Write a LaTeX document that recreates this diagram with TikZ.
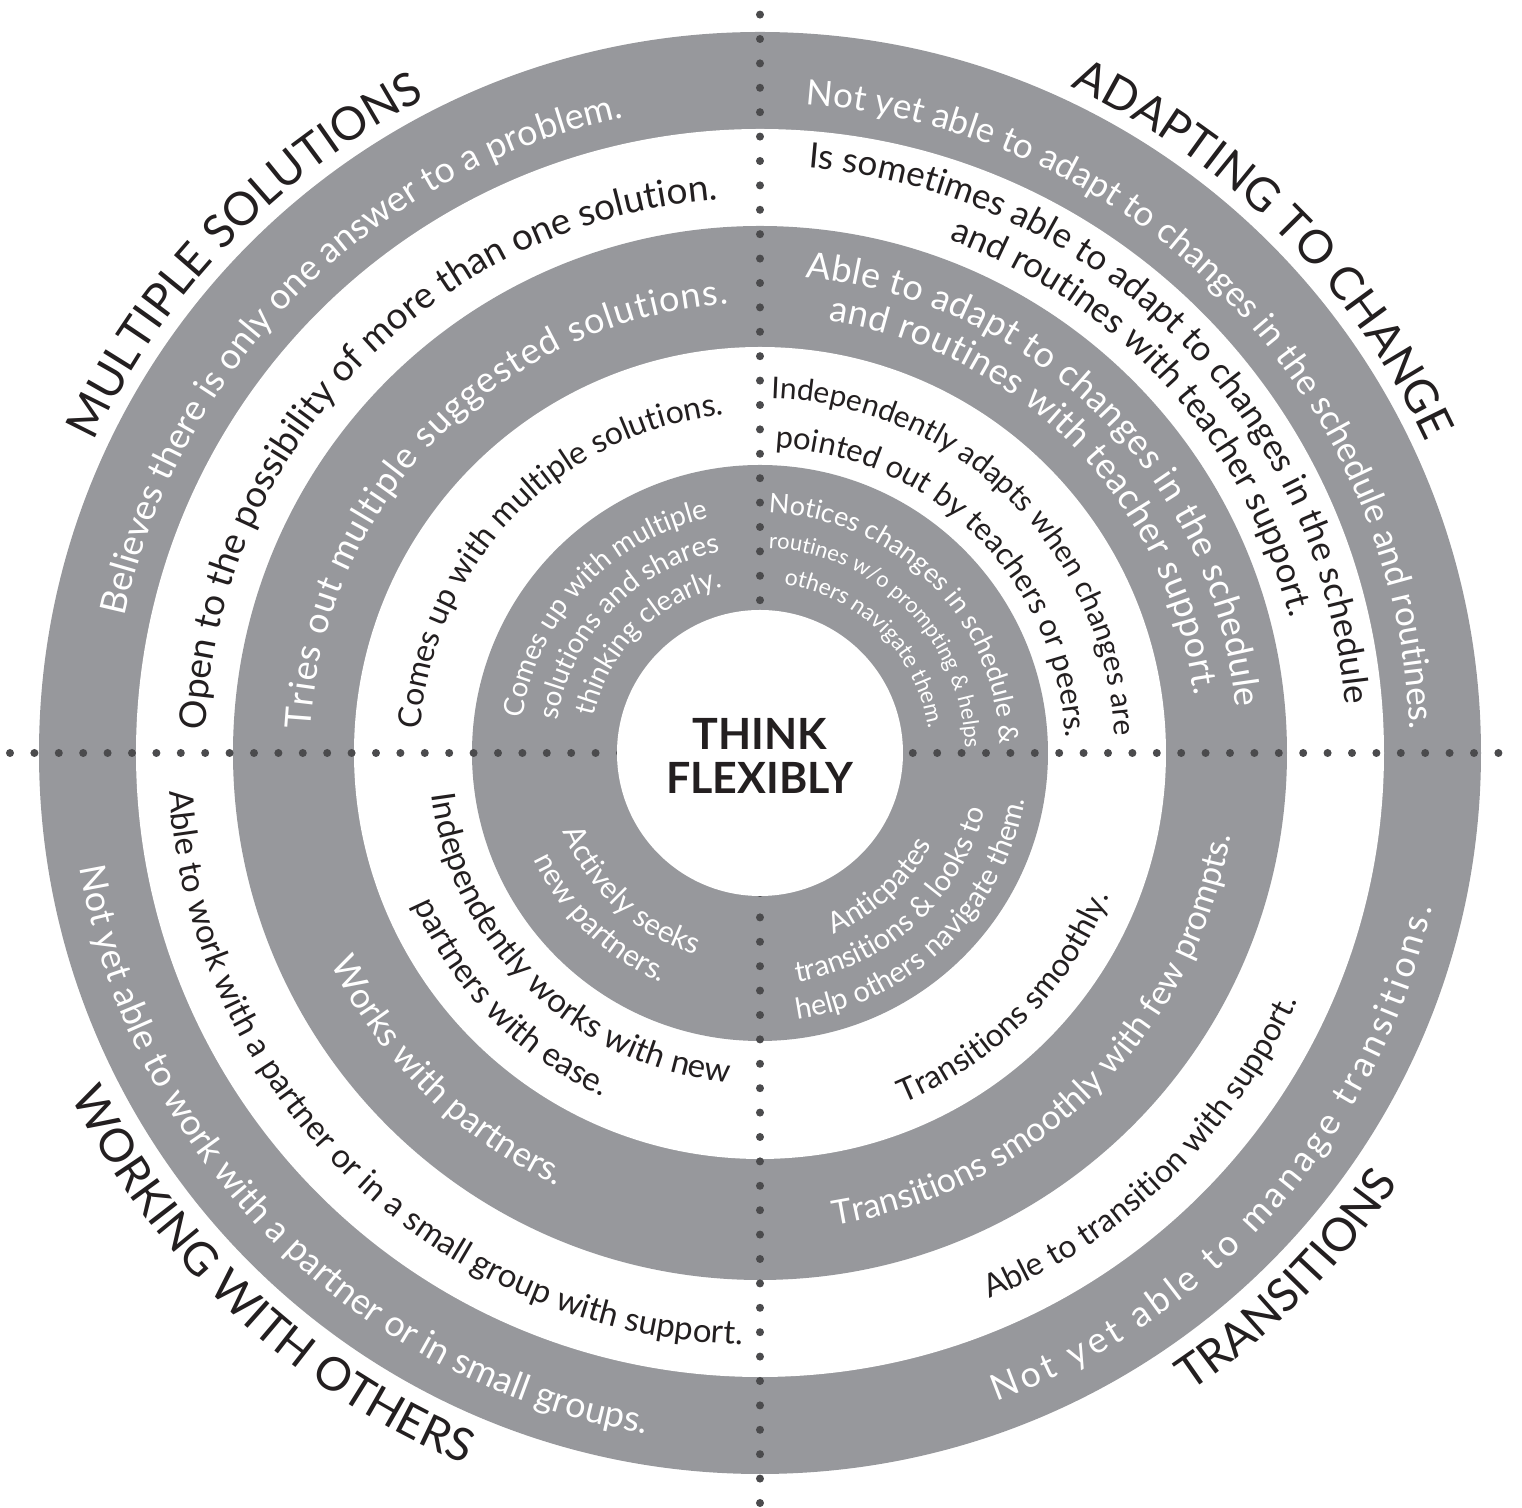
\documentclass[tikz,border=0pt]{standalone}
\usepackage{fontspec}
\setmainfont{Lato}
\usetikzlibrary{decorations.text}
\definecolor{ringgray}{HTML}{97989C}
\definecolor{dotgray}{HTML}{4B4B4D}
\definecolor{inkblack}{HTML}{231F20}
\tikzset{
    ring/.style={fill=ringgray, draw=none},
    hole/.style={fill=white, draw=none},
    dotline/.style={draw=dotgray, line width=4pt, line cap=round, dash pattern=on 0pt off 12.2pt},
    ringtxt/.style n args={3}{decorate, decoration={text along path, text align=center, text color=#2, text={|\fontsize{#1}{#1}\selectfont|#3}}},
    fittxt/.style n args={3}{decorate, decoration={text along path, text align={fit to path}, text color=#2, text={|\fontsize{#1}{#1}\selectfont|#3}}}
}
\begin{document}
\begin{tikzpicture}[x=0.5pt, y=0.5pt]
    \useasboundingbox (-760,-755) rectangle (762,753);
    % rings
    \fill[ring] (0,0) circle[radius=721];
    \fill[hole] (0,0) circle[radius=624];
    \fill[ring] (0,0) circle[radius=527];
    \fill[hole] (0,0) circle[radius=406];
    \fill[ring] (0,0) circle[radius=288];

    % multiple solutions (upper left)
    \path[ringtxt={18}{white}{Believes there is only one answer to a problem.}] (210:650) arc[start angle=210, end angle=60, radius=650];
    \path[ringtxt={18.5}{inkblack}{Open to the possibility of more than one solution.}] (211:555) arc[start angle=211, end angle=61, radius=555];
    \path[fittxt={18}{white}{Tries out multiple suggested solutions.}] (177:450) arc[start angle=177, end angle=94, radius=450];
    \path[ringtxt={16}{inkblack}{Comes up with multiple solutions.}] (216:340) arc[start angle=216, end angle=56, radius=340];
    \path[ringtxt={14}{white}{Comes up with multiple}] (222:240) arc[start angle=222, end angle=52, radius=240];
    \path[ringtxt={14}{white}{solutions and shares}] (221:205) arc[start angle=221, end angle=51, radius=205];
    \path[ringtxt={14}{white}{thinking clearly.}] (220:170) arc[start angle=220, end angle=50, radius=170];
    \path[ringtxt={23}{inkblack}{MULTIPLE SOLUTIONS}] (211:735) arc[start angle=211, end angle=61, radius=735];

    % adapting to change (upper right)
    \path[ringtxt={17.5}{white}{Not yet able to adapt to changes in the schedule and routines.}] (119:650) arc[start angle=119, end angle=-31, radius=650];
    \path[ringtxt={17.5}{inkblack}{Is sometimes able to adapt to changes in the schedule}] (120:587) arc[start angle=120, end angle=-30, radius=587];
    \path[ringtxt={17.5}{inkblack}{and routines with teacher support.}] (117:547) arc[start angle=117, end angle=-33, radius=547];
    \path[fittxt={18}{white}{Able to adapt to changes in the schedule}] (84.5:478) arc[start angle=84.5, end angle=5.5, radius=478];
    \path[fittxt={18}{white}{and routines with teacher support.}] (81:438) arc[start angle=81, end angle=7.5, radius=438];
    \path[ringtxt={15}{inkblack}{Independently adapts when changes are}] (125.5:355) arc[start angle=125.5, end angle=-34.5, radius=355];
    \path[ringtxt={15.5}{inkblack}{pointed out by teachers or peers.}] (125:306) arc[start angle=125, end angle=-35, radius=306];
    \path[ringtxt={13.5}{white}{Notices changes in schedule {\&}}] (130:240) arc[start angle=130, end angle=-40, radius=240];
    \path[ringtxt={11}{white}{routines w/o prompting {\&} helps}] (129.5:205) arc[start angle=129.5, end angle=-40.5, radius=205];
    \path[ringtxt={11.5}{white}{others navigate them.}] (130:170) arc[start angle=130, end angle=-40, radius=170];
    \path[ringtxt={23}{inkblack}{ADAPTING TO CHANGE}] (120:735) arc[start angle=120, end angle=-30, radius=735];

    % working with others (lower left)
    \path[ringtxt={18}{white}{Not yet able to work with a partner or in small groups.}] (150:690) arc[start angle=150, end angle=300, radius=690];
    \path[ringtxt={16.5}{inkblack}{Able to work with a partner or in a small group with support.}] (151:592) arc[start angle=151, end angle=301, radius=592];
    \path[ringtxt={17.5}{white}{Works with partners.}] (150.5:478) arc[start angle=150.5, end angle=300.5, radius=478];
    \path[ringtxt={16.5}{inkblack}{Independently works with new}] (151:331) arc[start angle=151, end angle=301, radius=331];
    \path[ringtxt={16.5}{inkblack}{partners with ease.}] (149.5:378) arc[start angle=149.5, end angle=299.5, radius=378];
    \path[ringtxt={15}{white}{Actively seeks}] (142:212) arc[start angle=142, end angle=312, radius=212];
    \path[ringtxt={15}{white}{new partners.}] (141:250) arc[start angle=141, end angle=311, radius=250];
    \path[ringtxt={23}{inkblack}{WORKING WITH OTHERS}] (152:770) arc[start angle=152, end angle=302, radius=770];

    % transitions (lower right)
    \path[fittxt={18}{white}{Not yet able to manage transitions.}] (290:690) arc[start angle=290, end angle=347, radius=690];
    \path[ringtxt={16}{inkblack}{Able to transition with support.}] (239:592) arc[start angle=239, end angle=389, radius=592];
    \path[ringtxt={17}{white}{Transitions smoothly with few prompts.}] (239.5:478) arc[start angle=239.5, end angle=389.5, radius=478];
    \path[ringtxt={16}{inkblack}{Transitions smoothly.}] (240:378) arc[start angle=240, end angle=390, radius=378];
    \path[ringtxt={14.5}{white}{Anticpates}] (227:195) arc[start angle=227, end angle=397, radius=195];
    \path[ringtxt={14.5}{white}{transitions {\&} looks to}] (227.5:232) arc[start angle=227.5, end angle=397.5, radius=232];
    \path[ringtxt={14.5}{white}{help others navigate them.}] (229:269) arc[start angle=229, end angle=399, radius=269];
    \path[ringtxt={23}{inkblack}{TRANSITIONS}] (240:770) arc[start angle=240, end angle=390, radius=770];

    % quadrant lines
    \draw[dotline] (0,-750) -- (0,750);
    \draw[dotline] (-750,0) -- (755,0);

    % centre
    \fill[hole] (0,0) circle[radius=143];
    \node[font=\bfseries\fontsize{21.5}{22}\selectfont, text=inkblack, align=center] (ctr) at (0,-3) {THINK\\FLEXIBLY};
\end{tikzpicture}
\end{document}
